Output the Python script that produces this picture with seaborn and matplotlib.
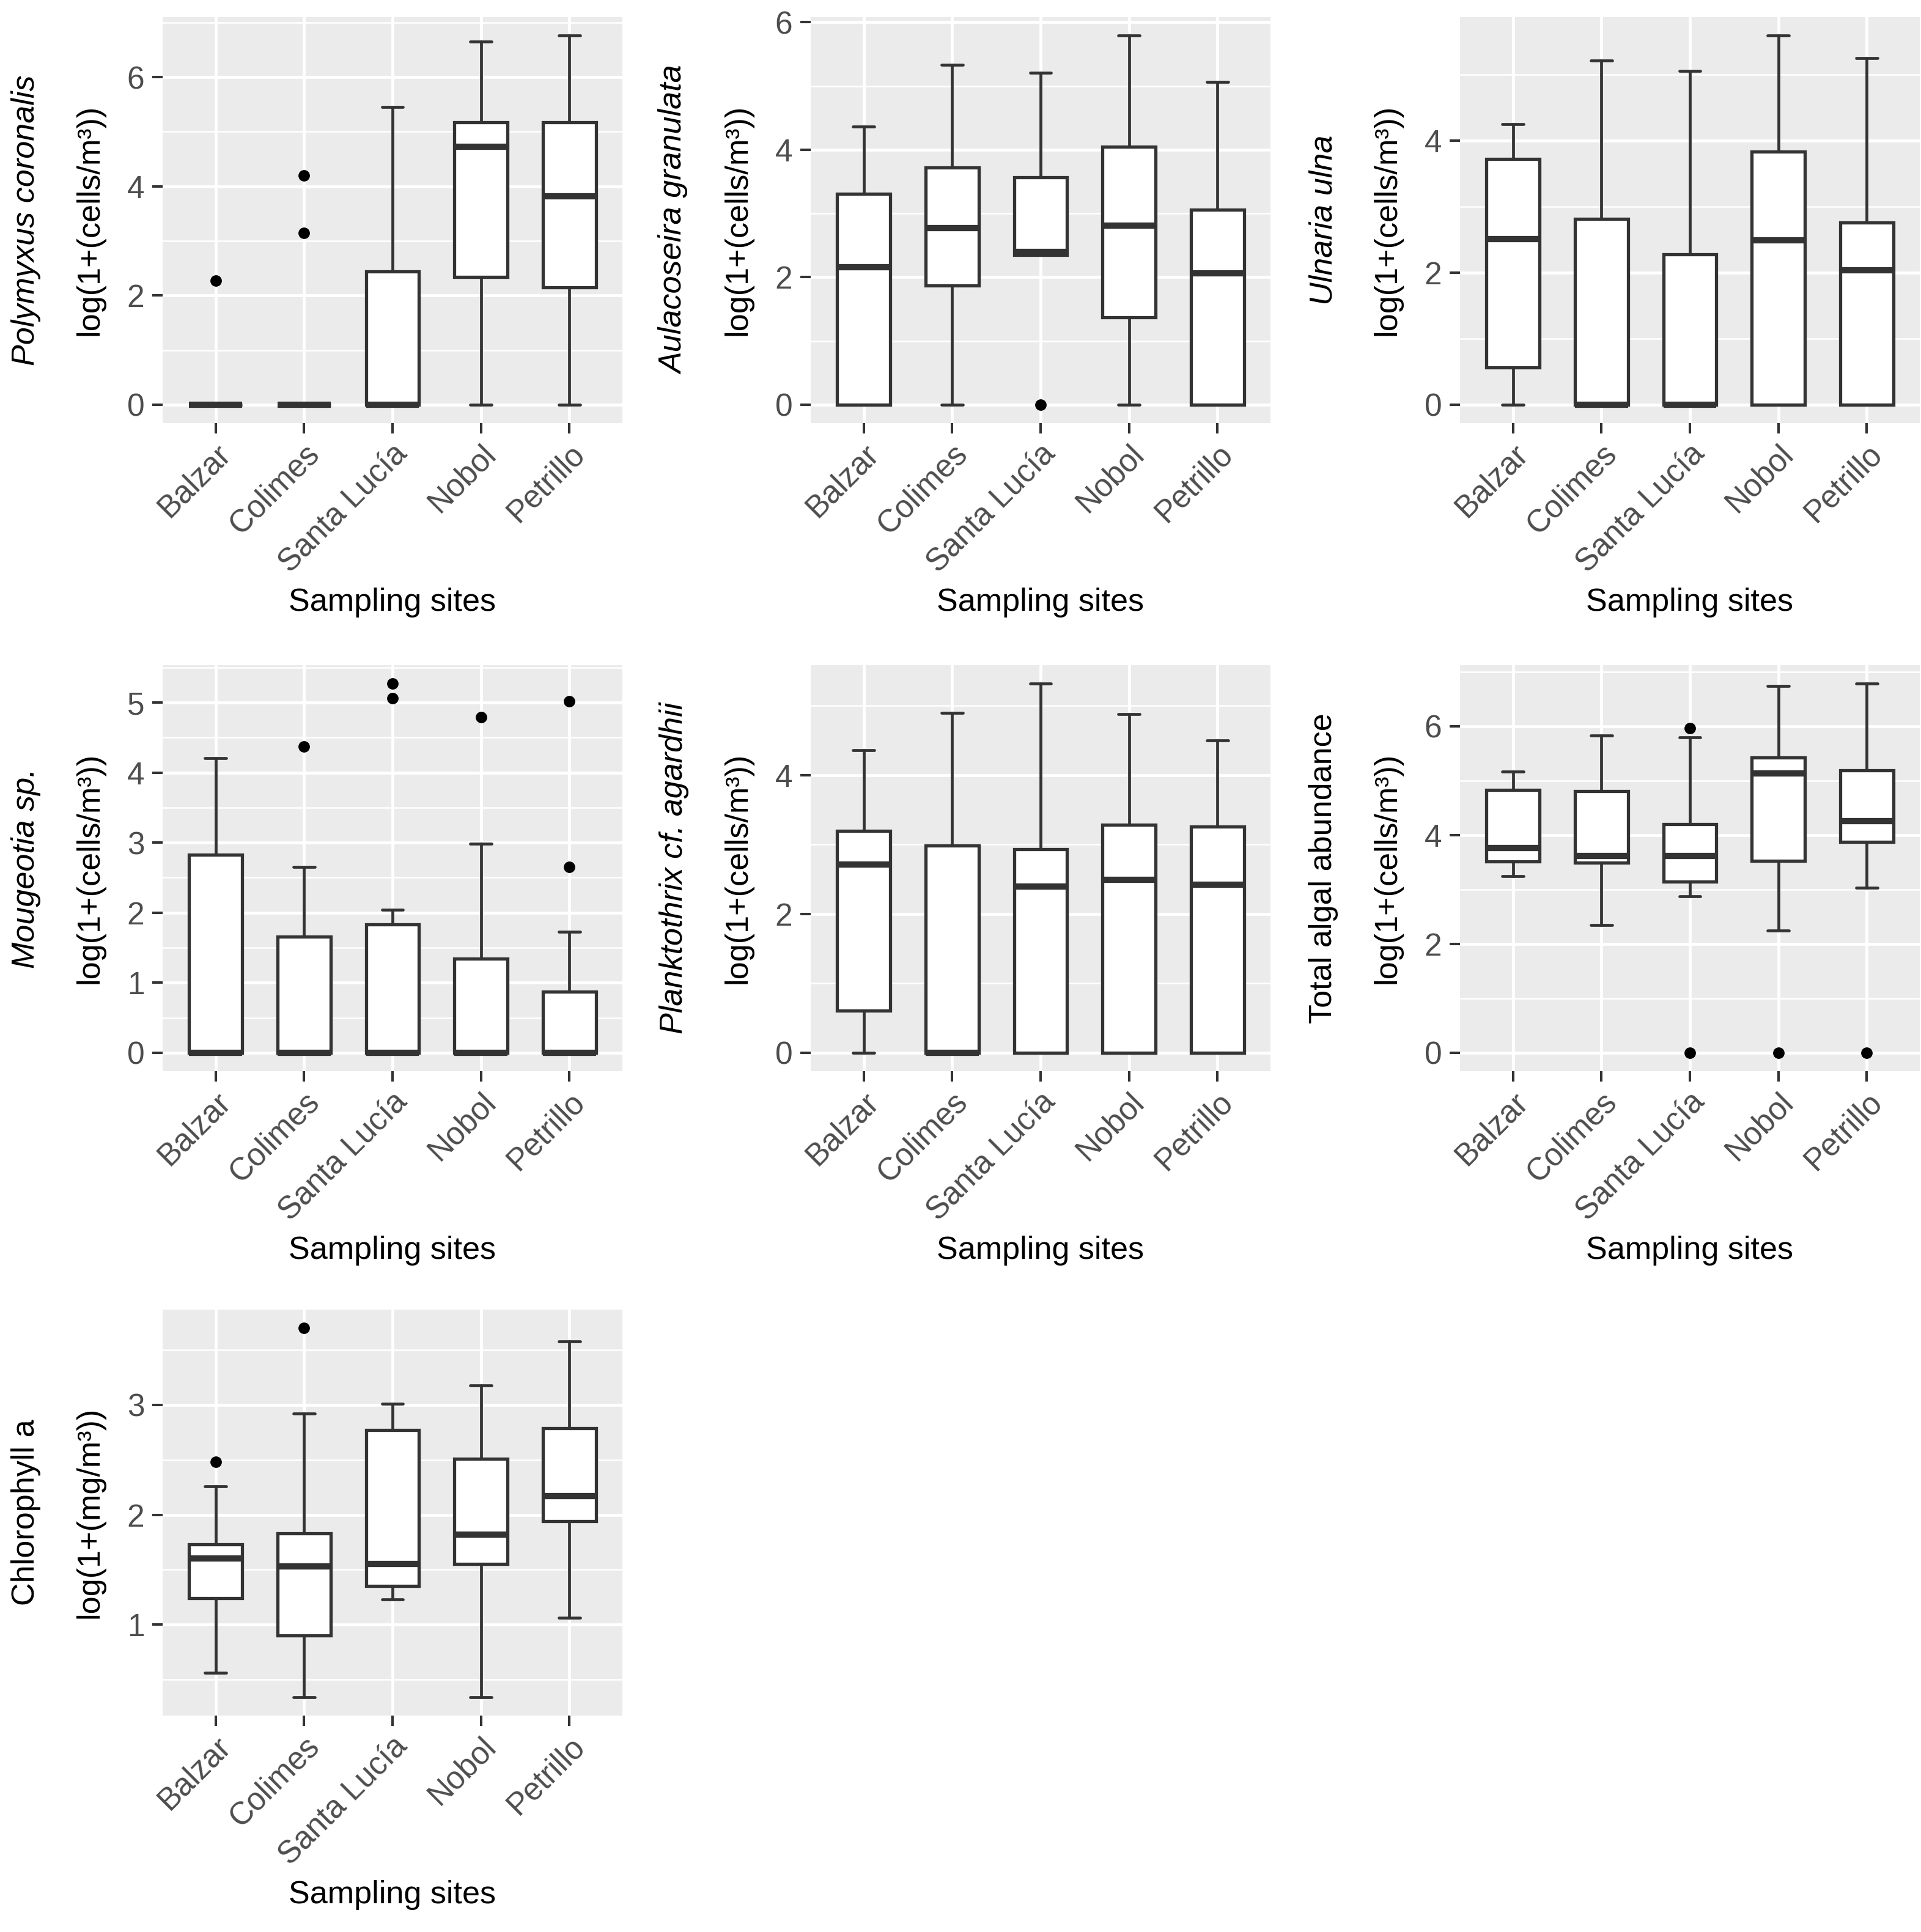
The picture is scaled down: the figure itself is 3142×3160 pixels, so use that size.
import matplotlib
matplotlib.use("Agg")
import matplotlib.pyplot as plt
import seaborn as sns
from matplotlib.ticker import MultipleLocator, AutoMinorLocator

# sampling sites on the x axis
sites = ["Balzar", "Colimes", "Santa Lucía", "Nobol", "Petrillo"]

# Polymyxus coronalis
poly_q1 = [0, 0, 0, 2.34, 2.15]
poly_med = [0, 0, 0, 4.72, 3.82]
poly_q3 = [0, 0, 2.44, 5.17, 5.17]
poly_lo = [0, 0, 0, 0, 0]
poly_hi = [0, 0, 5.45, 6.65, 6.76]
poly_out = [[2.27], [4.20, 3.15], [], [], []]

# Aulacoseira granulata
aula_q1 = [0, 1.87, 2.35, 1.37, 0]
aula_med = [2.16, 2.77, 2.40, 2.81, 2.06]
aula_q3 = [3.31, 3.72, 3.57, 4.05, 3.06]
aula_lo = [0, 0, 2.35, 0, 0]
aula_hi = [4.36, 5.33, 5.21, 5.79, 5.06]
aula_out = [[], [], [0], [], []]

# Ulnaria ulna
ulna_q1 = [0.56, 0, 0, 0, 0]
ulna_med = [2.51, 0, 0, 2.49, 2.04]
ulna_q3 = [3.72, 2.81, 2.28, 3.83, 2.76]
ulna_lo = [0, 0, 0, 0, 0]
ulna_hi = [4.25, 5.21, 5.05, 5.59, 5.25]
ulna_out = [[], [], [], [], []]

# Mougeotia sp.
moug_q1 = [0, 0, 0, 0, 0]
moug_med = [0, 0, 0, 0, 0]
moug_q3 = [2.83, 1.66, 1.83, 1.34, 0.87]
moug_lo = [0, 0, 0, 0, 0]
moug_hi = [4.21, 2.65, 2.04, 2.98, 1.73]
moug_out = [[], [4.37], [5.06, 5.27], [4.79], [5.02, 2.65]]

# Planktothrix cf. agardhii
plank_q1 = [0.61, 0, 0, 0, 0]
plank_med = [2.71, 0, 2.40, 2.49, 2.42]
plank_q3 = [3.20, 2.99, 2.93, 3.29, 3.26]
plank_lo = [0, 0, 0, 0, 0]
plank_hi = [4.36, 4.90, 5.32, 4.88, 4.50]
plank_out = [[], [], [], [], []]

# Total algal abundance
total_q1 = [3.51, 3.49, 3.14, 3.53, 3.87]
total_med = [3.76, 3.61, 3.62, 5.13, 4.26]
total_q3 = [4.83, 4.80, 4.20, 5.42, 5.19]
total_lo = [3.24, 2.34, 2.87, 2.24, 3.03]
total_hi = [5.16, 5.83, 5.79, 6.74, 6.78]
total_out = [[], [], [5.96, 0], [0], [0]]

# Chlorophyll a
chla_q1 = [1.24, 0.90, 1.35, 1.55, 1.94]
chla_med = [1.60, 1.53, 1.55, 1.82, 2.17]
chla_q3 = [1.73, 1.83, 2.77, 2.51, 2.79]
chla_lo = [0.56, 0.34, 1.23, 0.34, 1.06]
chla_hi = [2.26, 2.92, 3.01, 3.18, 3.58]
chla_out = [[2.48], [3.70], [], [], []]

cells_lab = "log(1+(cells/m³))"

sns.set_theme(style="darkgrid", rc={
    "axes.facecolor": "#EBEBEB",
    "figure.facecolor": "white",
    "grid.color": "white",
    "axes.edgecolor": "#EBEBEB",
})
plt.rcParams["font.family"] = ["Liberation Sans", "DejaVu Sans"]

EDGE = "#333333"


def draw_panel(ax, q1, med, q3, lo, hi, out, step, name, ylab, italic=True):
    stats = []
    for i in range(len(sites)):
        stats.append(dict(q1=q1[i], med=med[i], q3=q3[i],
                          whislo=lo[i], whishi=hi[i], fliers=out[i]))
    pos = list(range(1, len(sites) + 1))
    ax.bxp(stats, positions=pos, widths=0.6, capwidths=0.24,
           patch_artist=True, showfliers=True,
           boxprops=dict(facecolor="white", edgecolor=EDGE, linewidth=3.8),
           medianprops=dict(color=EDGE, linewidth=7.4, solid_capstyle="butt"),
           whiskerprops=dict(color=EDGE, linewidth=3.4),
           capprops=dict(color=EDGE, linewidth=3.4),
           flierprops=dict(marker="o", markerfacecolor="black",
                           markeredgecolor="black", markersize=12.5))

    # ggplot-like 5% expansion of the data range
    vals = lo + hi + [v for o in out for v in o]
    ymin, ymax = min(vals), max(vals)
    r = ymax - ymin
    ax.set_ylim(ymin - 0.05 * r, ymax + 0.05 * r)
    ax.set_xlim(0.4, len(sites) + 0.6)

    ax.yaxis.set_major_locator(MultipleLocator(step))
    ax.yaxis.set_minor_locator(AutoMinorLocator(2))
    ax.grid(which="major", color="white", linewidth=3.4)
    ax.grid(which="minor", axis="y", color="white", linewidth=1.8)
    ax.set_axisbelow(True)
    for s in ax.spines.values():
        s.set_visible(False)

    ax.set_xticks(pos)
    ax.set_xticklabels(sites, rotation=45, ha="right", rotation_mode="anchor")
    ax.yaxis.set_major_formatter(matplotlib.ticker.FormatStrFormatter("%g"))
    ax.tick_params(axis="both", which="major", bottom=True, left=True,
                   direction="out", length=12.5, width=2.9, color=EDGE,
                   labelcolor="#4D4D4D", labelsize=37, pad=9)
    ax.tick_params(axis="x", which="major", pad=6)
    ax.tick_params(axis="y", which="minor", length=0)

    ax.set_xlabel("Sampling sites", fontsize=37.5, color="black")
    ax.xaxis.set_label_coords(0.5, -0.442)
    ax.xaxis.label.set_va("center")
    ax.set_ylabel(ylab, fontsize=37.5, color="black")
    ax.yaxis.set_label_coords(-0.158, 0.5)
    ax.yaxis.label.set_va("center")
    ax.text(-0.297, 0.5, name, transform=ax.transAxes, rotation=90,
            ha="center", va="center", rotation_mode="anchor",
            fontsize=37.5, style="italic" if italic else "normal",
            color="black")


fig = plt.figure(figsize=(31.42, 31.60), dpi=100)
W, H = 3142, 3160
lefts = [266, 1326, 2388]
tops = [28, 1088, 2142]
pw, ph = 752, 664


def make_ax(col, row):
    return fig.add_axes([lefts[col] / W, 1 - (tops[row] + ph) / H, pw / W, ph / H])


draw_panel(make_ax(0, 0), poly_q1, poly_med, poly_q3, poly_lo, poly_hi, poly_out,
           2, "Polymyxus coronalis", cells_lab)
draw_panel(make_ax(1, 0), aula_q1, aula_med, aula_q3, aula_lo, aula_hi, aula_out,
           2, "Aulacoseira granulata", cells_lab)
draw_panel(make_ax(2, 0), ulna_q1, ulna_med, ulna_q3, ulna_lo, ulna_hi, ulna_out,
           2, "Ulnaria ulna", cells_lab)
draw_panel(make_ax(0, 1), moug_q1, moug_med, moug_q3, moug_lo, moug_hi, moug_out,
           1, "Mougeotia sp.", cells_lab)
draw_panel(make_ax(1, 1), plank_q1, plank_med, plank_q3, plank_lo, plank_hi, plank_out,
           2, "Planktothrix cf. agardhii", cells_lab)
draw_panel(make_ax(2, 1), total_q1, total_med, total_q3, total_lo, total_hi, total_out,
           2, "Total algal abundance", cells_lab, italic=False)
draw_panel(make_ax(0, 2), chla_q1, chla_med, chla_q3, chla_lo, chla_hi, chla_out,
           1, "Chlorophyll a", "log(1+(mg/m³))", italic=False)

fig.savefig("out.png", dpi=100)
